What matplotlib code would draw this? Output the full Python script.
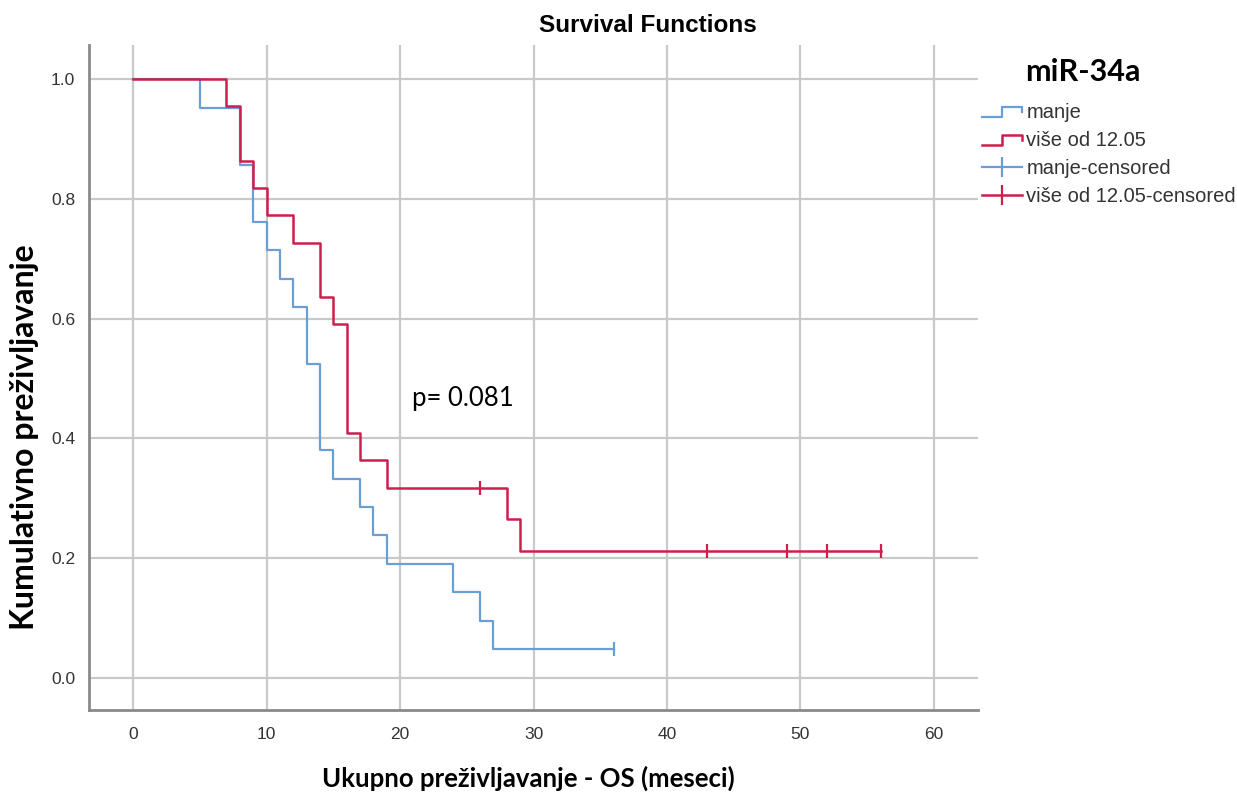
import numpy as np
import matplotlib
matplotlib.use("Agg")
import matplotlib.pyplot as plt
from matplotlib.lines import Line2D
from matplotlib.legend_handler import HandlerBase

# Kaplan-Meier step values (time in months, cumulative survival)
manje_times = [0, 5, 8, 9, 10, 11, 12, 13, 14, 15, 17, 18, 19, 24, 26, 27, 36]
manje_surv = [1.000, 0.952, 0.857, 0.762, 0.714, 0.667, 0.619, 0.524, 0.381,
              0.333, 0.286, 0.238, 0.190, 0.143, 0.095, 0.048, 0.048]
manje_censored = [36]

visa_times = [0, 7, 8, 9, 10, 12, 14, 15, 16, 17, 19, 28, 29, 56]
visa_surv = [1.000, 0.955, 0.864, 0.818, 0.773, 0.727, 0.636, 0.591, 0.409,
             0.364, 0.318, 0.265, 0.212, 0.212]
visa_censored = [26, 43, 49, 52, 56]

x_ticks = [0, 10, 20, 30, 40, 50, 60]
y_ticks = [0.0, 0.2, 0.4, 0.6, 0.8, 1.0]

labels = ["manje", "više od 12.05", "manje-censored", "više od 12.05-censored"]
p_text = "p= 0.081"

BLUE = "#6a9fd6"
RED = "#cc1f4d"
GRID = "#c9c9c9"
SPINE = "#8a8a8a"
SANS = "Liberation Sans"
BOLD = "Lato"


def surv_at(times, surv, t):
    idx = np.searchsorted(times, t, side="right") - 1
    return np.asarray(surv)[idx]


class StepHandler(HandlerBase):
    """Legend glyph shaped like a survival step."""

    def create_artists(self, legend, orig_handle, xdescent, ydescent,
                       width, height, fontsize, trans):
        x0, x1 = -xdescent, -xdescent + width
        xm = x0 + 0.5 * width
        ylo = -ydescent + 0.1 * height
        yhi = -ydescent + 0.8 * height
        xs = [x0, xm, xm, x1, x1]
        ys = [ylo, ylo, yhi, yhi, yhi - 0.4 * height]
        ln = Line2D(xs, ys, color=orig_handle.get_color(),
                    linewidth=orig_handle.get_linewidth())
        ln.set_transform(trans)
        return [ln]


fig = plt.figure(figsize=(12.37, 7.95), dpi=100)
ax = fig.add_axes([89 / 1237, 1 - 710 / 795, (978 - 89) / 1237, (710 - 45) / 795])

l_manje, = ax.step(manje_times, manje_surv, where="post", color=BLUE, lw=1.6, zorder=3)
l_visa, = ax.step(visa_times, visa_surv, where="post", color=RED, lw=1.8, zorder=4)

c_manje, = ax.plot(manje_censored, surv_at(manje_times, manje_surv, manje_censored),
                   ls="none", marker="|", ms=10, mew=1.6, color=BLUE, zorder=5)
c_visa, = ax.plot(visa_censored, surv_at(visa_times, visa_surv, visa_censored),
                  ls="none", marker="|", ms=10, mew=1.6, color=RED, zorder=5)

ax.set_xlim(-3.3, 63.3)
ax.set_ylim(-0.0534, 1.057)
ax.set_xticks(x_ticks)
ax.set_yticks(y_ticks)
ax.set_xticklabels([str(v) for v in x_ticks], fontfamily=SANS, fontsize=12.5, color="#333333")
ax.set_yticklabels([f"{v:.1f}" for v in y_ticks], fontfamily=SANS, fontsize=12.5, color="#333333")
ax.tick_params(length=0, pad=12)
ax.tick_params(axis="y", pad=10)
ax.grid(True, color=GRID, lw=1.6, zorder=0)
ax.set_axisbelow(True)
for side in ("top", "right"):
    ax.spines[side].set_visible(False)
for side in ("left", "bottom"):
    ax.spines[side].set_color(SPINE)
    ax.spines[side].set_linewidth(2)

ax.text(20.9, 0.466, p_text, fontfamily=BOLD, fontsize=18.5, va="center", ha="left")

fig.text(648 / 1237, 1 - 25 / 795, "Survival Functions", fontfamily=SANS,
         fontweight="bold", fontsize=17.5, ha="center", va="center")
fig.text(528 / 1237, 1 - 778 / 795, "Ukupno preživljavanje - OS (meseci)",
         fontfamily=BOLD, fontweight="bold", fontsize=18.5, ha="center", va="center")
fig.text(25 / 1237, 1 - 437 / 795, "Kumulativno preživljavanje", fontfamily=BOLD,
         fontweight="bold", fontsize=23, ha="center", va="center", rotation=90)
fig.text(1025 / 1237, 1 - 72 / 795, "miR-34a", fontfamily=BOLD, fontweight="bold",
         fontsize=22, ha="left", va="center")

h_censor_blue = Line2D([], [], color=BLUE, lw=1.6, marker="|", ms=14, mew=1.6)
h_censor_red = Line2D([], [], color=RED, lw=1.8, marker="|", ms=14, mew=1.6)
leg = fig.legend([l_manje, l_visa, h_censor_blue, h_censor_red], labels,
                 handler_map={l_manje: StepHandler(), l_visa: StepHandler()},
                 loc="upper left", bbox_to_anchor=(982 / 1237, 1 - 103 / 795),
                 frameon=False, prop={"family": SANS, "size": 14.5},
                 handlelength=2.0, handletextpad=0.2, labelspacing=0.45,
                 numpoints=1, borderpad=0, borderaxespad=0)
for t in leg.get_texts():
    t.set_color("#333333")

fig.savefig("out.png", dpi=100, facecolor="white")
